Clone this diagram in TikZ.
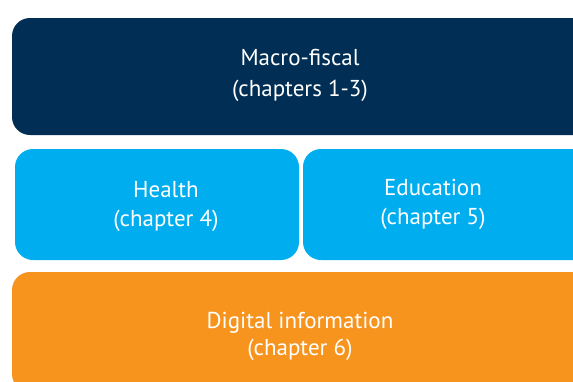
\documentclass[tikz,border=0pt]{standalone}
\usepackage{fontspec}
\setmainfont{PT Sans}
\usetikzlibrary{positioning}
\definecolor{navy}{HTML}{002E54}
\definecolor{skyblue}{HTML}{00AEEF}
\definecolor{amber}{HTML}{F7941E}
\newcommand{\bnode}[5]{\node [box, fill=#2, minimum width=#4, minimum height=#5] (#1) at (#3) {}}
\newcommand{\tnode}[3]{\node [lbl] (#1) at (#2) {#3}}

\begin{document}
\begin{tikzpicture}[x=1pt, y=-1pt,
  box/.style={rectangle, rounded corners=18pt, inner sep=0pt, draw=none},
  lbl/.style={anchor=base, inner sep=0pt, text=white, font=\fontsize{23}{28}\selectfont}]

\useasboundingbox (0,0) rectangle (573,381);
\clip (0,0) rectangle (573,381);

\bnode{MACRO}{navy}{306,76.5}{588pt}{117pt};
\bnode{HEALTH}{skyblue}{157,204.5}{284pt}{111pt};
\bnode{EDU}{skyblue}{451.5,204.5}{297pt}{111pt};
\bnode{DIGITAL}{amber}{306,332}{588pt}{120pt};

\tnode{MACROT}{300,65}{Macro-fiscal};
\tnode{MACROC}{300,96}{(chapters 1-3)};

\tnode{HEALTHT}{166,197}{Health};
\tnode{HEALTHC}{166,226}{(chapter 4)};

\tnode{EDUT}{433,195}{Education};
\tnode{EDUC}{433,224}{(chapter 5)};

\tnode{DIGITALT}{300,328}{Digital information};
\tnode{DIGITALC}{300,355}{(chapter 6)};

\end{tikzpicture}
\end{document}
